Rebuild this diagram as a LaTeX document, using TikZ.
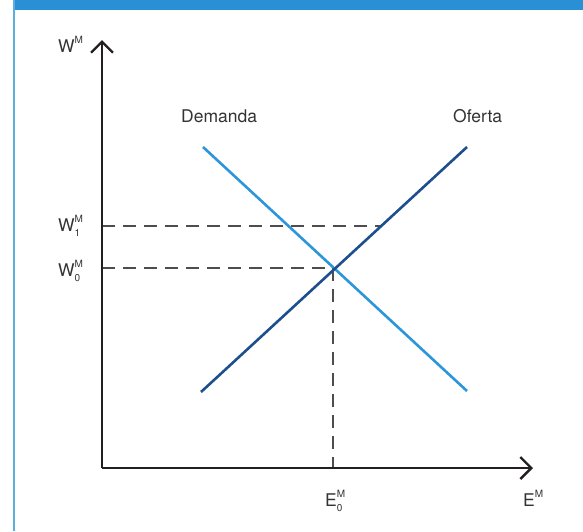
\documentclass[tikz,border=0pt]{standalone}
\usepackage{fontspec}
\setmainfont{TeX Gyre Heros}
\usetikzlibrary{arrows.meta}
\definecolor{barblue}{HTML}{2A90D5}
\definecolor{edgeblue}{HTML}{5AAEE0}
\definecolor{demblue}{HTML}{2B96D9}
\definecolor{supblue}{HTML}{1D4F8F}
\definecolor{axisc}{HTML}{231F20}
\definecolor{dashc}{HTML}{4D4D4D}
\definecolor{textc}{HTML}{333333}
\newcommand\axlab[3]{#1\rlap{\raisebox{9pt}{\fontsize{10}{10}\selectfont #2}}\raisebox{-5pt}{\fontsize{10}{10}\selectfont #3}}
\begin{document}
\begin{tikzpicture}[x=1pt,y=-1pt,
  lab/.style={inner sep=0pt,anchor=base west,text=textc,font=\fontsize{17.5}{20}\selectfont},
  axisline/.style={draw=axisc,line width=2.4pt,-{Straight Barb[length=11pt,width=22pt]}},
  guide/.style={draw=dashc,line width=2pt,dash pattern=on 13pt off 8pt},
  curve/.style={line width=2.6pt}]
\useasboundingbox (0,0) rectangle (583,531);
\fill[white] (0,0) rectangle (583,531);
\fill[barblue] (13,0) rectangle (583,10);
\draw[edgeblue,line width=2pt] (14,0) -- (14,531);
% coordinates
\coordinate (O) at (102,468);
\coordinate (ytip) at (102,40);
\coordinate (xtip) at (533,468);
\coordinate (d1) at (203,147);
\coordinate (d2) at (467,391);
\coordinate (s1) at (201,392);
\coordinate (s2) at (467,147);
\coordinate (eq) at (333,268);
\coordinate (w1a) at (102,226);
\coordinate (w1b) at (381,226);
\coordinate (w0a) at (102,268);
\coordinate (e0) at (333,468);
% dashed guides
\draw[guide] (w1a) -- (w1b);
\draw[guide] (w0a) -- (eq);
\draw[guide] (eq) -- (e0);
% curves
\draw[curve,demblue] (d1) -- (d2);
\draw[curve,supblue] (s1) -- (s2);
% axes
\draw[axisline] (O) -- (ytip);
\draw[axisline] (O) -- (xtip);
% labels
\node[lab] (wm) at (58,52) {\axlab{W}{M}{}};
\node[lab] (w1) at (58,231) {\axlab{W}{M}{1}};
\node[lab] (w0) at (58,276) {\axlab{W}{M}{0}};
\node[lab] (e0l) at (325,506) {\axlab{E}{M}{0}};
\node[lab] (eml) at (523,506) {\axlab{E}{M}{}};
\node[lab] (dem) at (181,122) {Demanda};
\node[lab] (ofe) at (453,122) {Oferta};
\end{tikzpicture}
\end{document}
